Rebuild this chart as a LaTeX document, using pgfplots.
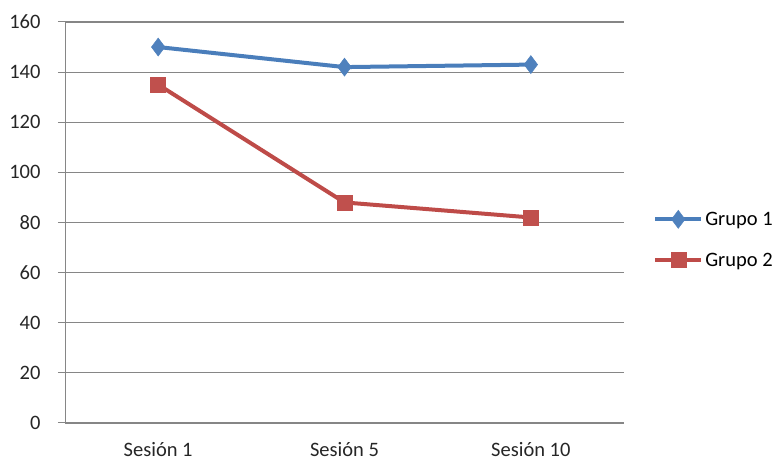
\documentclass[border=0pt]{standalone}
\usepackage{pgfplots}
\pgfplotsset{compat=1.18}
\usepackage{fontspec}
\setmainfont{Carlito}
\definecolor{gblue}{HTML}{4A7EBB}
\definecolor{gbluem}{HTML}{4F81BD}
\definecolor{gred}{HTML}{BE4B48}
\definecolor{gredm}{HTML}{C0504D}
\definecolor{gridgray}{HTML}{868686}
\begin{document}
\begin{tikzpicture}[x=1bp,y=1bp]
\path[use as bounding box] (0,0) rectangle (779,461);
\begin{axis}[
  at={(65bp,38bp)}, anchor=south west,
  scale only axis, width=559bp, height=401bp,
  xmin=0, xmax=3, ymin=0, ymax=160,
  ytick={0,20,...,160},
  xtick={0.5,1.5,2.5},
  xticklabels={Sesión 1,Sesión 5,Sesión 10},
  extra x ticks={0,1,2,3},
  extra x tick labels={},
  extra x tick style={major tick length=7bp, tick style={gridgray, line width=1bp}, tick align=outside},
  axis x line*=bottom, axis y line*=left,
  axis line style={gridgray, line width=1bp, -},
  ymajorgrids, grid style={gridgray, line width=1.2bp},
  tick align=outside,
  ytick style={gridgray, line width=1bp},
  major tick length=7bp,
  xtick style={draw=none},
  font=\fontsize{20.5bp}{24bp}\selectfont,
  tick label style={font=\fontsize{20.5bp}{24bp}\selectfont, black!85},
  yticklabel style={xshift=-14bp},
  xticklabel style={yshift=-9bp},
  /pgf/number format/assume math mode=true,
  legend style={at={(1.052,0.457)}, anchor=west, draw=none, fill=none,
    font=\fontsize{20.5bp}{24bp}\selectfont, row sep=22bp,
    inner xsep=0bp,
    /tikz/every even column/.append style={column sep=0bp}},
  legend cell align=left,
  legend image code/.code={\draw[mark repeat=2,mark phase=2] plot coordinates {(0bp,0bp) (23bp,0bp) (46bp,0bp)};},
  clip=false,
]
\addplot[gblue, line width=4bp, mark=diamond*, mark size=9bp,
  mark options={fill=gbluem, draw=gbluem, line width=0.5bp}]
  coordinates {(0.5,150) (1.5,142) (2.5,143)};
\addlegendentry{Grupo 1}
\addplot[gred, line width=4bp, mark=square*, mark size=7.5bp,
  mark options={fill=gredm, draw=gredm, line width=0.5bp}]
  coordinates {(0.5,135) (1.5,88) (2.5,82)};
\addlegendentry{Grupo 2}
\end{axis}
\end{tikzpicture}
\end{document}
